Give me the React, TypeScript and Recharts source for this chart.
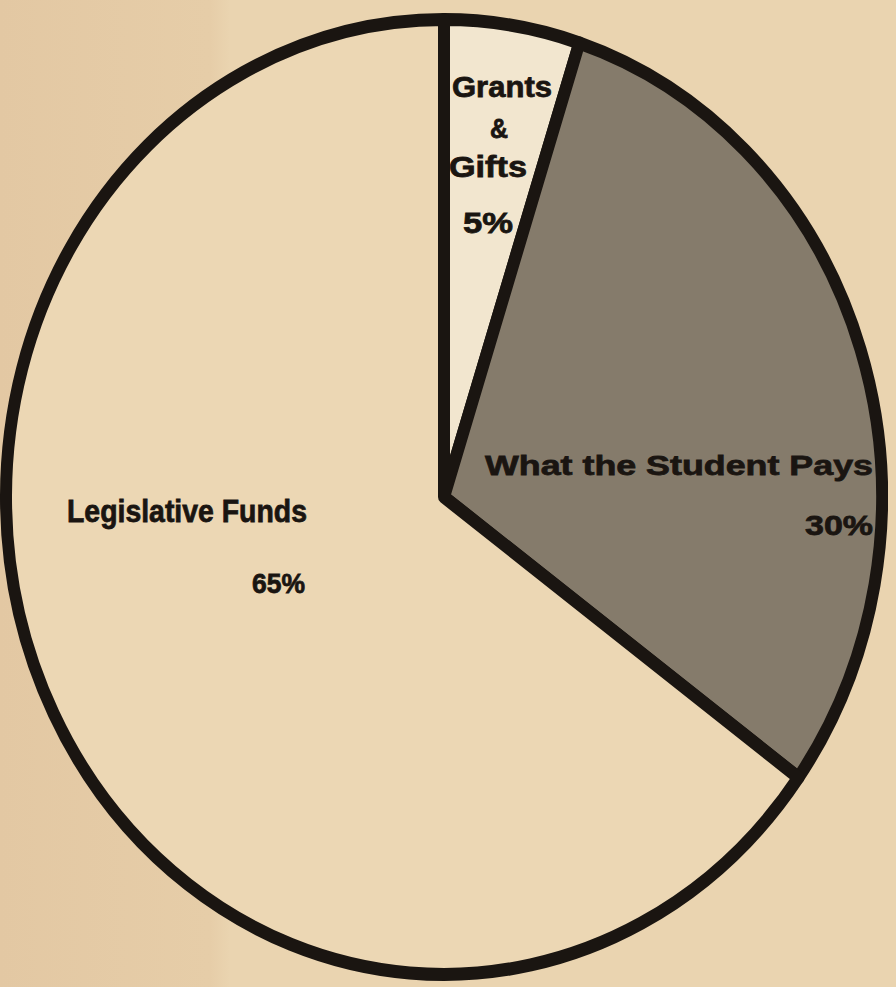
import React from 'react';
import { PieChart, Pie, Cell } from 'recharts';

const categories = ['Grants & Gifts', 'What the Student Pays', 'Legislative Funds'];
const shares = [5, 30, 65];
const nameLines = [['Grants', '&', 'Gifts'], ['What the Student Pays'], ['Legislative Funds']];

const fills = ['#f2e6cf', '#857b6b', '#ecd7b4'];
const ink = '#1a1511';

// where each text line sits, measured from the pie centre (before the vertical stretch)
type LineBox = { dx: number; dy: number; size: number; anchor: 'start' | 'middle' | 'end'; width?: number };
const nameBoxes: LineBox[][] = [
  [
    { dx: 58, dy: -367, size: 27, anchor: 'middle', width: 100 },
    { dx: 55, dy: -329, size: 25, anchor: 'middle' },
    { dx: 44, dy: -294, size: 27, anchor: 'middle', width: 78 },
  ],
  [{ dx: 41, dy: -20, size: 26, anchor: 'start', width: 388 }],
  [{ dx: -377, dy: 23, size: 29, anchor: 'start', width: 240 }],
];
const valueBoxes: LineBox[] = [
  { dx: 44, dy: -242, size: 27, anchor: 'middle', width: 50 },
  { dx: 429, dy: 35, size: 26, anchor: 'end', width: 68 },
  { dx: -139, dy: 88, size: 26, anchor: 'end', width: 53 },
];

const data = categories.map((name, i) => ({ name, value: shares[i] }));

const renderLabel = (props: any) => {
  const { cx, cy, index } = props;
  const lines = nameLines[index].map((t, j) => ({ t, box: nameBoxes[index][j] }));
  lines.push({ t: `${shares[index]}%`, box: valueBoxes[index] });
  return (
    <g key={`lbl-${index}`}>
      {lines.map(({ t, box }, j) => (
        <text
          key={j}
          x={cx + box.dx}
          y={cy + box.dy}
          textAnchor={box.anchor}
          fontSize={box.size}
          fontWeight="bold"
          fontFamily="'Liberation Sans', Arial, Helvetica, sans-serif"
          fill={ink}
          stroke={ink}
          strokeWidth={0.7}
          textLength={box.width}
          lengthAdjust={box.width ? 'spacingAndGlyphs' : undefined}
        >
          {t}
        </text>
      ))}
    </g>
  );
};

export default function App() {
  return (
    <div
      style={{
        position: 'absolute',
        left: 0,
        top: 0,
        width: 896,
        height: 987,
        overflow: 'hidden',
        background: 'linear-gradient(90deg, #e3c8a3 0px, #e6cda8 210px, #ead4b0 230px, #ead4b0 896px)',
      }}
    >
      <div style={{ transform: 'scaleY(1.09)', transformOrigin: '444px 497px' }}>
        <PieChart width={896} height={987} margin={{ top: 0, right: 0, bottom: 0, left: 0 }}>
          <Pie
            data={data}
            dataKey="value"
            nameKey="name"
            cx={444}
            cy={497}
            outerRadius={438}
            startAngle={90}
            endAngle={-270}
            stroke={ink}
            strokeWidth={12}
            strokeLinejoin="round"
            labelLine={false}
            label={renderLabel}
            isAnimationActive={false}
          >
            {data.map((d, i) => (
              <Cell key={d.name} fill={fills[i]} />
            ))}
          </Pie>
        </PieChart>
      </div>
    </div>
  );
}
